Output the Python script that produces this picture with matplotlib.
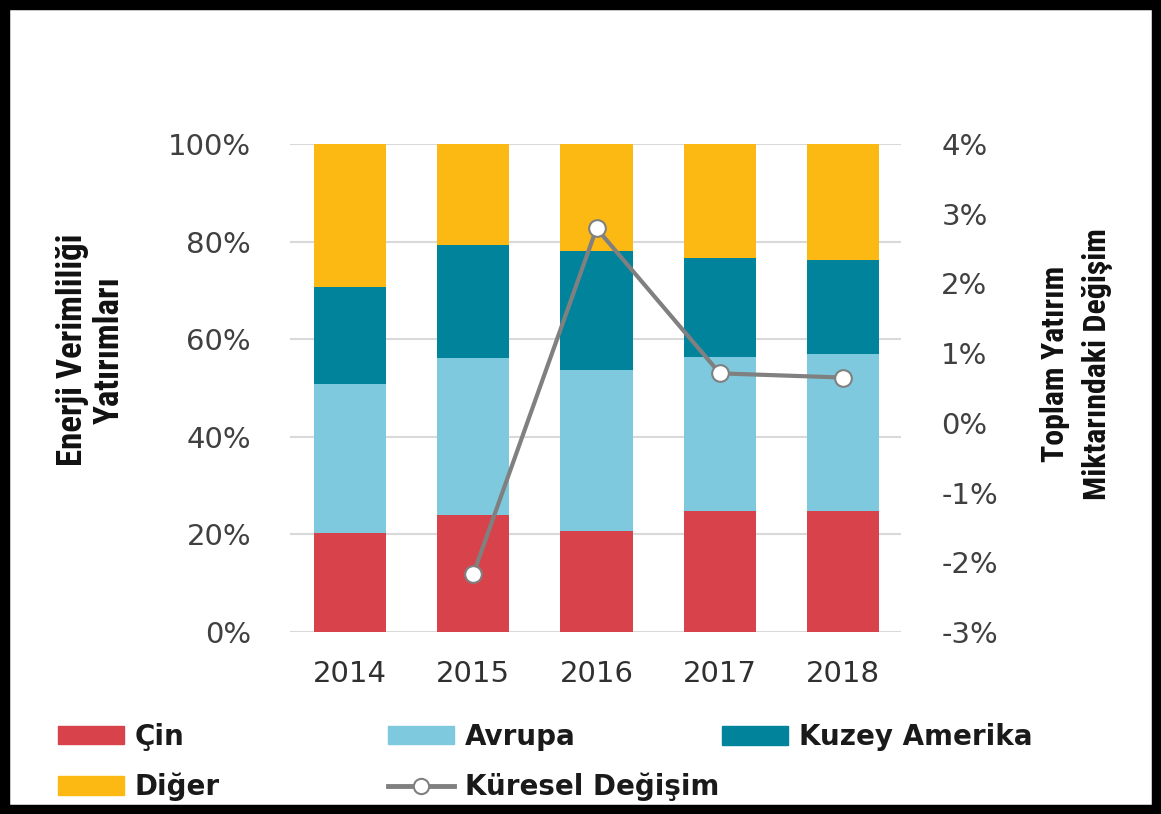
import matplotlib
matplotlib.use('Agg')
import matplotlib.pyplot as plt
import numpy as np
from matplotlib import font_manager as fm
from matplotlib.patches import Patch, Rectangle
from matplotlib.lines import Line2D

# ---- data ----
years = ['2014', '2015', '2016', '2017', '2018']
cin = [20.2, 24.0, 20.7, 24.8, 24.8]
avrupa = [30.6, 32.1, 33.0, 31.6, 32.1]
kuzey_amerika = [19.8, 23.2, 24.4, 20.3, 19.3]
diger = [29.4, 20.7, 21.9, 23.3, 23.8]
kuresel = [np.nan, -2.17, 2.79, 0.71, 0.65]
left_ticks = [0, 20, 40, 60, 80, 100]
left_labels = ['0%', '20%', '40%', '60%', '80%', '100%']
right_ticks = [-3, -2, -1, 0, 1, 2, 3, 4]
right_labels = ['-3%', '-2%', '-1%', '0%', '1%', '2%', '3%', '4%']
series_names = ['Çin', 'Avrupa', 'Kuzey Amerika', 'Diğer']
line_name = 'Küresel Değişim'

colors = ['#D8434B', '#7FC9DE', '#00839B', '#FDB913']
line_color = '#808080'

W, H = 1161, 814
fig = plt.figure(figsize=(W / 100, H / 100), dpi=100)

ax = fig.add_axes([290 / W, 1 - 632 / H, 611 / W, 488 / H])
x = np.arange(len(years))
bottom = np.zeros(len(years))
for vals, c in zip([cin, avrupa, kuzey_amerika, diger], colors):
    ax.bar(x, vals, 0.585, bottom=bottom, color=c, zorder=2)
    bottom += np.array(vals)

ax.set_xlim(-0.487, 4.47)
ax.set_ylim(0, 100)
ax.set_yticks(left_ticks)
ax.set_yticklabels(left_labels)
ax.set_xticks(x)
ax.set_xticklabels(years)
ax.yaxis.grid(True, color='#D9D9D9', linewidth=1.5, zorder=0)
ax.set_axisbelow(True)
for s in ax.spines.values():
    s.set_visible(False)
ax.tick_params(axis='y', length=0, pad=28, labelsize=21, labelcolor='#404040')
ax.tick_params(axis='x', length=0, pad=20, labelsize=21, labelcolor='#303030')

ax2 = ax.twinx()
ax2.set_ylim(-3, 4)
ax2.set_yticks(right_ticks)
ax2.set_yticklabels(right_labels)
for s in ax2.spines.values():
    s.set_visible(False)
ax2.tick_params(axis='y', length=0, pad=29, labelsize=21, labelcolor='#404040')
ax2.plot(x, kuresel, color=line_color, linewidth=3, marker='o', markersize=12,
         markerfacecolor='white', markeredgecolor=line_color, markeredgewidth=1.5, zorder=5)

# ---- font choice for axis titles (prefer a narrow bold face) ----
title_family = 'DejaVu Sans'
for cand in ['Liberation Sans Narrow', 'Roboto Condensed', 'Open Sans Condensed', 'Roboto']:
    try:
        fm.findfont(fm.FontProperties(family=cand, weight='bold'), fallback_to_default=False)
        title_family = cand
        break
    except Exception:
        pass

lt = ax.set_ylabel('Enerji Verimliliği\nYatırımları', fontsize=18, fontweight='bold',
                   family=[title_family, 'DejaVu Sans'], color='#111111', linespacing=1.15,
                   multialignment='center')
ax.yaxis.set_label_coords(-0.268, 0.578)
rt = ax2.set_ylabel('Toplam Yatırım\nMiktarındaki Değişim', fontsize=18, fontweight='bold',
                    family=[title_family, 'DejaVu Sans'], color='#111111', linespacing=1.5,
                    multialignment='center', rotation=90)
ax2.yaxis.set_label_coords(1.2275, 0.549)

# fit title sizes to reference extents (height of rotated text box)
fig.canvas.draw()
r = fig.canvas.get_renderer()
for t, target in [(lt, 232), (rt, 272)]:
    h = t.get_window_extent(r).height
    t.set_fontsize(t.get_fontsize() * target / h)

# ---- legend ----
fs = 20
common = dict(frameon=False, borderpad=0, borderaxespad=0, handlelength=2.37, handleheight=0.65,
              handletextpad=0.4, labelspacing=0.8, loc='center left',
              prop={'weight': 'bold', 'size': fs, 'family': 'DejaVu Sans'})
ph = [Patch(color=c) for c in colors]
lh = Line2D([], [], color=line_color, linewidth=3.5, marker='o', markersize=11,
            markerfacecolor='white', markeredgecolor=line_color, markeredgewidth=1.5)
leg1 = fig.legend([ph[0], ph[3]], [series_names[0], series_names[3]],
                  bbox_to_anchor=(58 / W, 1 - 762 / H), **common)
leg2 = fig.legend([ph[1], lh], [series_names[1], line_name],
                  bbox_to_anchor=(388 / W, 1 - 762 / H), **common)
leg3 = fig.legend([ph[2]], [series_names[2]],
                  bbox_to_anchor=(722 / W, 1 - 737 / H), **common)
for lg in (leg1, leg2, leg3):
    for txt in lg.get_texts():
        txt.set_color('#1a1a1a')

# ---- outer black frame ----
fig.patches.append(Rectangle((0, 0), 1, 1, transform=fig.transFigure, fill=False,
                             edgecolor='black', linewidth=14, clip_on=False))

fig.savefig('out.png', dpi=100, facecolor='white')
